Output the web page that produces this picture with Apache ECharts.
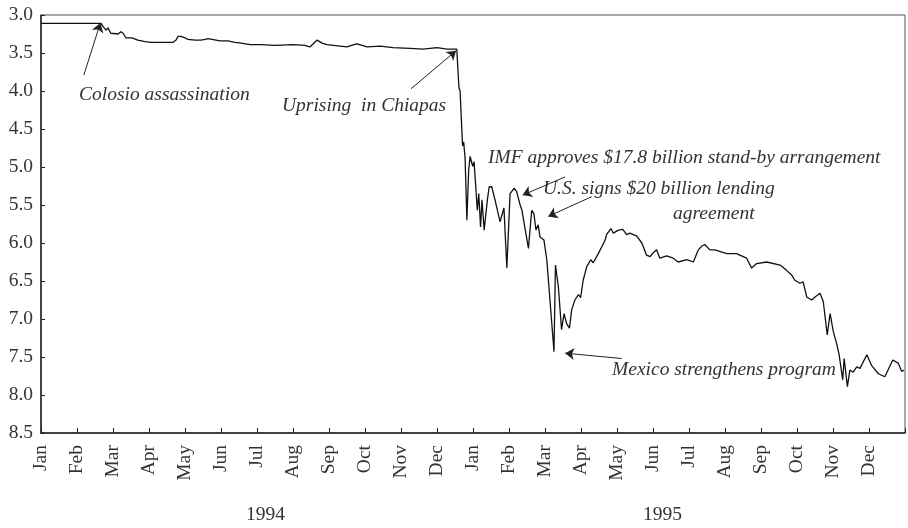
<!DOCTYPE html>
<html>
<head>
    <meta charset="utf-8" />
    <title>Peso exchange rate 1994-1995</title>
    <script src="https://cdn.jsdelivr.net/npm/echarts@6/dist/echarts.min.js"></script>
    <style>
        html, body { margin: 0; padding: 0; background: #fff; }
        #chart { width: 908px; height: 528px; }
    </style>
</head>
<body>
<div id="chart"></div>
<script>
    // month labels, Jan 1994 .. Dec 1995
    var monthLabels = ['Jan', 'Feb', 'Mar', 'Apr', 'May', 'Jun', 'Jul', 'Aug', 'Sep', 'Oct', 'Nov', 'Dec',
        'Jan', 'Feb', 'Mar', 'Apr', 'May', 'Jun', 'Jul', 'Aug', 'Sep', 'Oct', 'Nov', 'Dec'];
    var yearLabels = ['1994', '1995'];

    // position in months since 1 Jan 1994
    var monthPos = [
        0, 1.67, 1.72, 1.81, 1.86, 1.94, 2.14, 2.22, 2.28, 2.36, 2.53, 2.69, 2.89, 3.06, 3.67, 3.75, 3.81, 3.89,
        4.0, 4.08, 4.28, 4.44, 4.56, 4.64, 4.75, 4.97, 5.19, 5.39, 5.56, 5.81, 6.11, 6.5, 7.0, 7.33, 7.47, 7.67,
        7.81, 7.94, 8.31, 8.5, 8.69, 8.78, 9.06, 9.42, 9.78, 10.25, 10.61, 11.0, 11.28, 11.55,
        11.61, 11.64, 11.68, 11.71, 11.74, 11.78, 11.83, 11.88, 11.92, 11.99, 12.03, 12.12, 12.16, 12.21, 12.25,
        12.31, 12.40, 12.45, 12.52, 12.61, 12.75, 12.86, 12.94, 13.03, 13.08, 13.14, 13.21, 13.31, 13.36, 13.54,
        13.63, 13.69, 13.75, 13.81, 13.86, 13.97, 14.05, 14.25, 14.29, 14.37, 14.46, 14.53, 14.60, 14.68, 14.74,
        14.83, 14.93, 14.99, 15.06, 15.16, 15.27, 15.34, 15.48, 15.60, 15.67, 15.71, 15.83, 15.90, 16.04, 16.16,
        16.27, 16.36, 16.55, 16.69, 16.82, 16.92, 17.0, 17.10, 17.19, 17.38, 17.56, 17.70, 17.94, 18.12, 18.26,
        18.36, 18.44, 18.58, 18.72, 19.05, 19.32, 19.60, 19.74, 19.88, 20.16, 20.53, 20.71, 20.85, 20.94, 21.08,
        21.17, 21.27, 21.41, 21.5, 21.64, 21.73, 21.84, 21.92, 22.01, 22.10, 22.17, 22.27, 22.31, 22.40, 22.47,
        22.56, 22.66, 22.75, 22.94, 23.07, 23.26, 23.44, 23.66, 23.81, 23.91, 23.97
    ];
    // new pesos per US dollar
    var pesoRate = [
        3.11, 3.11, 3.15, 3.20, 3.17, 3.24, 3.25, 3.22, 3.24, 3.30, 3.30, 3.33, 3.35, 3.36, 3.36, 3.33, 3.28, 3.28,
        3.30, 3.32, 3.33, 3.33, 3.32, 3.31, 3.32, 3.34, 3.34, 3.36, 3.37, 3.39, 3.39, 3.40, 3.39, 3.40, 3.42, 3.33,
        3.37, 3.39, 3.41, 3.42, 3.39, 3.38, 3.42, 3.41, 3.43, 3.44, 3.45, 3.43, 3.45, 3.45,
        3.96, 3.99, 4.01, 4.72, 4.67, 4.88, 5.70, 5.04, 4.86, 4.99, 4.93, 5.57, 5.35, 5.79, 5.43,
        5.83, 5.43, 5.26, 5.26, 5.43, 5.72, 5.54, 6.33, 5.35, 5.37, 5.28, 5.32, 5.50, 5.57, 6.07,
        5.57, 5.61, 5.83, 5.76, 5.92, 5.96, 6.22, 7.43, 6.29, 6.57, 7.14, 6.93, 7.06, 7.12, 6.88,
        6.75, 6.68, 6.72, 6.49, 6.31, 6.22, 6.26, 6.14, 6.03, 5.96, 5.89, 5.81, 5.87, 5.83, 5.82,
        5.89, 5.87, 5.91, 6.00, 6.16, 6.18, 6.13, 6.09, 6.20, 6.17, 6.20, 6.25, 6.22, 6.25, 6.09,
        6.04, 6.02, 6.09, 6.09, 6.14, 6.14, 6.20, 6.33, 6.27, 6.25, 6.29, 6.36, 6.42, 6.49, 6.53,
        6.51, 6.71, 6.75, 6.71, 6.66, 6.77, 7.21, 6.93, 7.17, 7.32, 7.47, 7.80, 7.52, 7.89, 7.67,
        7.70, 7.63, 7.65, 7.47, 7.61, 7.72, 7.76, 7.54, 7.58, 7.69, 7.67
    ];

    // annotation arrows: [from, to] in [month, rate]
    var arrowFrom = [[1.19, 3.79], [10.28, 3.97], [14.56, 5.13], [15.30, 5.39], [16.13, 7.52]];
    var arrowTo = [[1.65, 3.105], [11.53, 3.47], [13.38, 5.37], [14.09, 5.65], [14.56, 7.45]];

    var serif = '"Liberation Serif", "DejaVu Serif", serif';

    var seriesData = monthPos.map(function (m, i) { return [m, pesoRate[i]]; });
    var arrowData = arrowFrom.map(function (f, i) {
        return [{ coord: f, symbol: 'none' }, { coord: arrowTo[i], symbol: 'arrow' }];
    });

    function note(text, left, top) {
        return {
            type: 'text', left: left, top: top, silent: true,
            style: { text: text, fill: '#333', font: 'italic 19.5px ' + serif }
        };
    }

    var chart = echarts.init(document.getElementById('chart'));
    var option = {
        animation: false,
        grid: { left: 41, top: 15, right: 3, bottom: 95, show: true, borderColor: '#555', borderWidth: 1 },
        xAxis: {
            type: 'value', min: 0, max: 24, interval: 1,
            axisLine: { show: true, onZero: false, lineStyle: { color: '#222', width: 1.5 } },
            axisTick: { show: true, inside: true, length: 5, lineStyle: { color: '#222', width: 1 } },
            splitLine: { show: false },
            axisLabel: {
                rotate: 90, margin: 12, color: '#333', fontFamily: serif, fontSize: 19.5,
                formatter: function (v) { return monthLabels[v] || ''; }
            }
        },
        yAxis: {
            type: 'value', inverse: true, min: 3, max: 8.5, interval: 0.5,
            axisLine: { show: true, onZero: false, lineStyle: { color: '#222', width: 1.5 } },
            axisTick: { show: true, inside: true, length: 4, lineStyle: { color: '#222' } },
            splitLine: { show: false },
            axisLabel: {
                margin: 8, color: '#333', fontFamily: serif, fontSize: 19.5,
                formatter: function (v) { return v.toFixed(1); }
            }
        },
        series: [{
            type: 'line',
            data: seriesData,
            showSymbol: false,
            lineStyle: { color: '#111', width: 1.3 },
            markLine: {
                silent: true,
                symbolSize: 9,
                label: { show: false },
                lineStyle: { color: '#222', width: 1, type: 'solid' },
                data: arrowData
            }
        }],
        graphic: [
            note('Colosio assassination', 79, 85),
            note('Uprising  in Chiapas', 282, 96),
            note('IMF approves $17.8 billion stand-by arrangement', 488, 148),
            note('U.S. signs $20 billion lending', 543, 179),
            note('agreement', 673, 204),
            note('Mexico strengthens program', 612, 360),
            {
                type: 'text', left: 246, top: 505, silent: true,
                style: { text: yearLabels[0], fill: '#333', font: '19.5px ' + serif }
            },
            {
                type: 'text', left: 643, top: 505, silent: true,
                style: { text: yearLabels[1], fill: '#333', font: '19.5px ' + serif }
            }
        ]
    };
    chart.setOption(option);
</script>
</body>
</html>
